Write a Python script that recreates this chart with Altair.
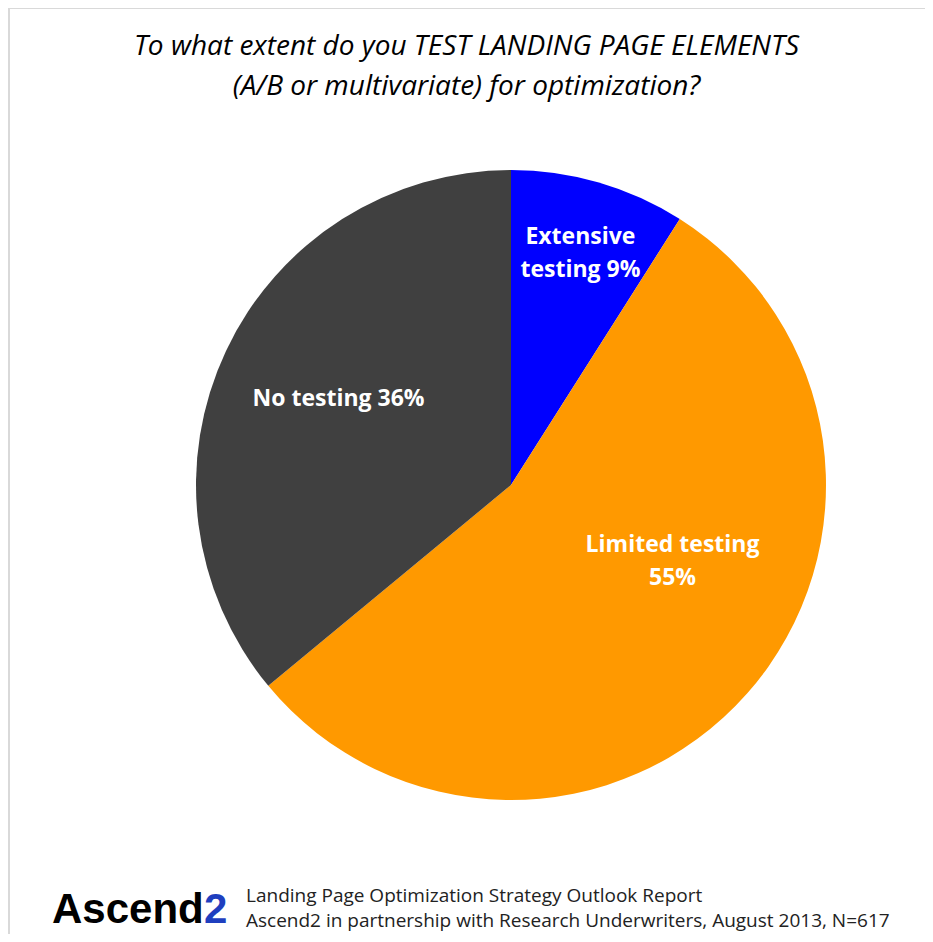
import altair as alt
import pandas as pd

categories = ["Extensive testing", "Limited testing", "No testing"]
values = [9, 55, 36]
label_lines = [["Extensive", "testing 9%"], ["Limited testing", "55%"], ["No testing 36%"]]
colors = ["#0000FF", "#FF9900", "#404040"]

title_lines = ["To what extent do you TEST LANDING PAGE ELEMENTS",
               "(A/B or multivariate) for optimization?"]
source_lines = ["Landing Page Optimization Strategy Outlook Report",
                "Ascend2 in partnership with Research Underwriters, August 2013, N=617"]

df = pd.DataFrame({"cat": categories, "val": values, "order": [0, 1, 2],
                   "label": label_lines})

W, H = 917, 926
CX, CY, R = 503, 477, 315

color = alt.Color("cat:N", scale=alt.Scale(domain=categories, range=colors), legend=None)

pie = alt.Chart(df).mark_arc(outerRadius=R).encode(
    theta=alt.Theta("val:Q", stack=True),
    order=alt.Order("order:Q"),
    color=color,
    x=alt.value(CX), y=alt.value(CY),
)

lab_base = alt.Chart(df).transform_window(
    cum="sum(val)", sort=[alt.SortField("order")]
).transform_calculate(
    mid="datum.cum - datum.val / 2"
).encode(
    theta=alt.Theta("mid:Q", scale=alt.Scale(domain=[0, 100], range=[0, 6.283185307])),
    text="label",
    x=alt.value(CX), y=alt.value(CY),
)
txt = dict(font="Open Sans", fontSize=23, fontWeight="bold", color="white",
           lineHeight=33, baseline="middle")
lab_ext = lab_base.transform_filter(alt.datum.cat == "Extensive testing").mark_text(
    radius=238, dx=3, dy=-19, **txt)
lab_lim = lab_base.transform_filter(alt.datum.cat == "Limited testing").mark_text(
    radius=178, dx=28, dy=-58, **txt)
lab_no = lab_base.transform_filter(alt.datum.cat == "No testing").mark_text(
    radius=195, dx=4, dy=-3, **txt)

title = alt.Chart(pd.DataFrame({"t": [title_lines]})).mark_text(
    font="Open Sans", fontSize=28, fontStyle="italic", color="black",
    baseline="middle", lineHeight=40).encode(
    text="t", x=alt.value(W / 2), y=alt.value(39))

source = alt.Chart(pd.DataFrame({"t": [source_lines]})).mark_text(
    font="Open Sans", fontSize=19, color="#222222", align="left",
    baseline="middle", lineHeight=25).encode(
    text="t", x=alt.value(238), y=alt.value(888))

logo1 = alt.Chart(pd.DataFrame({"t": ["Ascend"]})).mark_text(
    font="Liberation Sans", fontSize=42, fontWeight="bold", color="black", align="left",
    baseline="alphabetic").encode(
    text="t:N", x=alt.value(44), y=alt.value(915))
logo2 = alt.Chart(pd.DataFrame({"t": ["2"]})).mark_text(
    font="Liberation Sans", fontSize=42, color="#1F3FBF", fontWeight="bold",
    align="left", baseline="alphabetic").encode(
    text="t:N", x=alt.value(196), y=alt.value(915))

border_top = alt.Chart(pd.DataFrame({"a": [0]})).mark_rule(color="#d9d9d9", strokeWidth=2).encode(
    x=alt.value(0), x2=alt.value(W), y=alt.value(0))
border_left = alt.Chart(pd.DataFrame({"a": [0]})).mark_rule(color="#d9d9d9", strokeWidth=2).encode(
    x=alt.value(1), y=alt.value(0), y2=alt.value(H))

chart = alt.layer(border_top, border_left, pie, lab_ext, lab_lim, lab_no, title, source,
                  logo1, logo2).properties(
    width=W, height=H, autosize=alt.AutoSizeParams(type="none"), padding=0,
).configure_view(stroke=None).configure(background="white")

chart.save("out.html", embed_options={"renderer": "svg", "actions": False})
